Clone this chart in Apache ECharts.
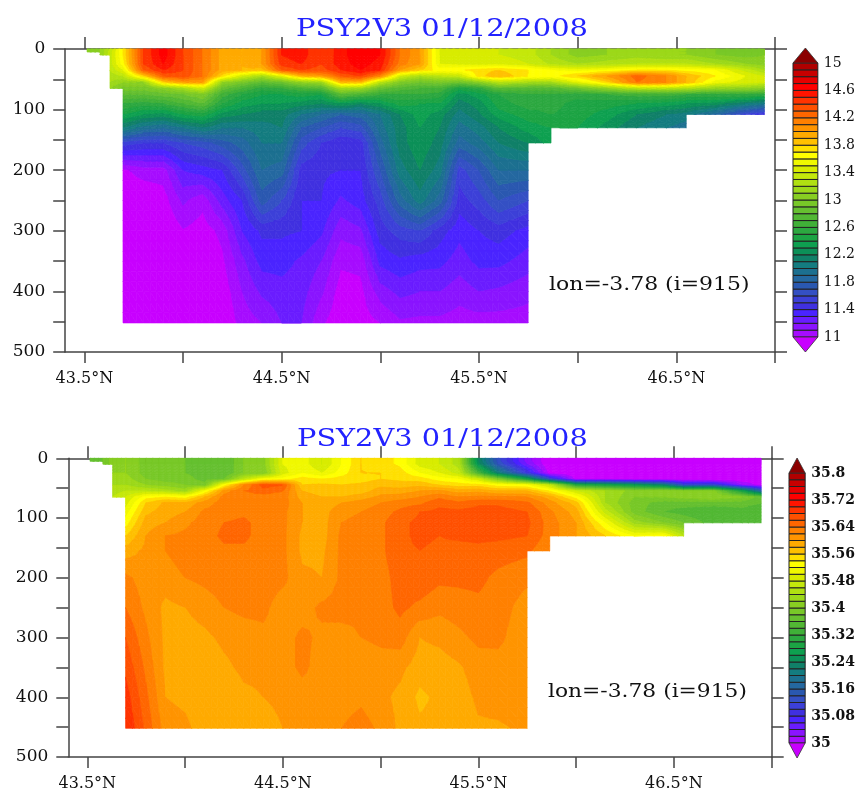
<!DOCTYPE html>
<html><head><meta charset="utf-8">
<style>html,body{margin:0;padding:0;background:#fff}#c{width:858px;height:792px}</style>
<script src="https://cdn.jsdelivr.net/npm/echarts@6/dist/echarts.min.js"></script>
</head><body><div id="c"></div>
<script>
const titleText = 'PSY2V3 01/12/2008';
const noteText = 'lon=-3.78 (i=915)';
const latTicks = [43.5,44,44.5,45,45.5,46,46.5,47];
const latLabels = [43.5,44.5,45.5,46.5];
const lats = [43.514,43.58,43.63,43.696,43.8,43.9,44,44.1,44.2,44.3,44.4,44.5,44.6,44.7,44.8,44.9,45,45.1,45.2,45.3,45.4,45.5,45.6,45.749,45.865,46,46.15,46.3,46.45,46.55,46.7,46.85,46.946];
const depths = [0,5,10,25,35,45,55,65,75,90,108,130,155,200,250,300,350,400,452];
// depth of the sea floor for each interval between two neighbouring lats
const seaFloor = [5,10,65,452,452,452,452,452,452,452,452,452,452,452,452,452,452,452,452,452,452,452,452,155,130,130,130,130,130,108,108,108];
const tempTicks = [11,11.4,11.8,12.2,12.6,13,13.4,13.8,14.2,14.6,15];
const salTicks = [35,35.08,35.16,35.24,35.32,35.4,35.48,35.56,35.64,35.72,35.8];
// one row per latitude, one entry per depth
const temperature = [
[13.0,13.0],
[13.1,13.1,13.1],
[13.3,13.35,13.35,13.35,13.3,13.25,13.2,13.1],
[13.7,13.7,13.7,13.65,13.5,13.3,13.1,12.95,12.8,12.6,12.4,12.1,11.55,10.98,10.9,10.9,10.8,10.8,10.8],
[14.4,14.4,14.4,14.4,14.3,13.8,13.1,12.95,12.8,12.55,12.3,11.95,11.5,11.05,10.9,10.8,10.8,10.8,10.8],
[14.65,14.65,14.65,14.6,14.5,14.3,13.8,13.05,12.85,12.6,12.25,11.9,11.5,11.05,10.95,10.9,10.8,10.8,10.8],
[14.4,14.4,14.4,14.4,14.4,14.35,14.0,13.2,12.9,12.7,12.4,12.0,11.6,11.3,11.12,10.99,10.9,10.85,10.8],
[14.2,14.2,14.2,14.2,14.2,14.2,14.0,13.4,13.0,12.8,12.45,12.1,11.65,11.35,11.03,10.95,10.9,10.85,10.8],
[13.95,13.95,13.95,13.95,13.95,13.75,13.1,12.85,12.65,12.5,12.25,12.0,11.75,11.4,11.25,11.03,10.98,10.93,10.9],
[13.9,13.9,13.9,13.9,13.9,13.4,12.95,12.7,12.5,12.35,12.2,12.0,11.85,11.65,11.4,11.3,11.17,11.1,11.04],
[14.0,14.0,14.0,14.0,13.85,13.2,12.8,12.55,12.4,12.3,12.15,12.05,12.0,11.9,11.75,11.42,11.34,11.22,11.1],
[14.5,14.5,14.5,14.45,14.3,13.5,12.9,12.6,12.4,12.3,12.15,12.1,12.0,11.85,11.6,11.42,11.34,11.26,11.2],
[14.55,14.55,14.55,14.5,14.4,13.9,13.1,12.7,12.45,12.25,12.0,11.8,11.65,11.45,11.4,11.4,11.28,11.24,11.2],
[14.4,14.4,14.4,14.4,14.35,14.0,13.15,12.75,12.4,12.2,11.9,11.7,11.5,11.42,11.4,11.32,11.2,11.12,11.02],
[14.55,14.55,14.55,14.55,14.5,14.3,13.9,13.2,12.8,12.3,11.8,11.6,11.42,11.4,11.28,11.13,11.02,10.95,10.92],
[14.7,14.7,14.7,14.65,14.6,14.4,13.9,13.15,12.7,12.2,11.85,11.65,11.45,11.4,11.35,11.18,11.03,10.97,10.95],
[14.6,14.6,14.6,14.55,14.5,14.1,13.3,12.85,12.6,12.3,12.0,11.95,11.85,11.7,11.55,11.45,11.33,11.15,11.0],
[14.2,14.2,14.2,14.15,14.0,13.4,13.0,12.75,12.6,12.45,12.2,12.15,12.15,12.05,11.85,11.55,11.38,11.23,11.08],
[14.0,14.0,14.0,14.0,13.8,13.2,12.9,12.7,12.6,12.4,12.35,12.3,12.28,12.2,12.05,11.6,11.34,11.2,11.07],
[13.5,13.5,13.5,13.5,13.65,13.3,12.95,12.7,12.55,12.4,12.25,12.2,12.15,12.05,11.85,11.45,11.33,11.2,11.07],
[13.45,13.45,13.45,13.47,13.68,13.35,12.9,12.45,12.25,12.15,12.05,11.95,11.85,11.55,11.45,11.33,11.25,11.14,11.05],
[13.4,13.4,13.4,13.45,13.75,13.75,13.05,12.55,12.35,12.25,12.18,12.05,11.95,11.7,11.55,11.4,11.33,11.2,11.05],
[13.4,13.4,13.4,13.47,13.8,13.9,13.3,12.8,12.5,12.45,12.35,12.2,12.1,11.9,11.7,11.45,11.33,11.18,11.05],
[13.35,13.35,13.35,13.4,13.7,13.7,13.2,12.75,12.6,12.55,12.45,12.35,12.2,11.9,11.6,11.36,11.25,11.13,11.05],
[13.2,13.2,13.2,13.28,13.6,13.65,13.2,12.75,12.6,12.55,12.5,12.4,12.35],
[13.05,13.05,13.05,13.2,13.55,13.8,13.5,12.9,12.55,12.45,12.45,12.4],
[13.1,13.1,13.1,13.25,13.6,14.0,13.8,13.1,12.6,12.45,12.35,12.25],
[13.15,13.15,13.15,13.3,13.7,14.25,14.2,13.3,12.65,12.4,12.2,12.1],
[13.1,13.1,13.1,13.3,13.7,14.1,14.1,13.3,12.65,12.35,12.1,12.0],
[13.1,13.1,13.1,13.3,13.65,13.9,13.9,13.25,12.6,12.3,12.05,11.95],
[13.0,13.0,13.0,13.2,13.6,13.7,13.55,13.1,12.6,12.25,11.85],
[12.95,12.95,12.95,13.1,13.35,13.5,13.45,13.1,12.6,12.1,11.55],
[13.0,13.0,13.0,13.05,13.2,13.4,13.4,13.05,12.55,12.0,11.45]
];
const salinity = [
[35.37,35.37],
[35.38,35.38,35.38],
[35.41,35.41,35.41,35.42,35.43,35.44,35.45,35.46],
[35.42,35.42,35.42,35.42,35.43,35.44,35.46,35.48,35.49,35.51,35.53,35.56,35.59,35.625,35.64,35.66,35.675,35.69,35.70],
[35.39,35.39,35.39,35.39,35.40,35.42,35.46,35.53,35.56,35.575,35.59,35.60,35.605,35.61,35.615,35.625,35.635,35.645,35.655],
[35.39,35.39,35.39,35.39,35.39,35.41,35.45,35.54,35.585,35.59,35.60,35.62,35.62,35.61,35.595,35.595,35.595,35.60,35.61],
[35.38,35.38,35.38,35.38,35.39,35.40,35.43,35.53,35.585,35.60,35.615,35.625,35.63,35.62,35.60,35.59,35.59,35.595,35.605],
[35.37,35.37,35.37,35.37,35.37,35.39,35.52,35.58,35.61,35.625,35.63,35.63,35.63,35.625,35.61,35.595,35.585,35.585,35.59],
[35.36,35.36,35.36,35.36,35.38,35.53,35.61,35.63,35.63,35.63,35.64,35.645,35.635,35.63,35.62,35.605,35.595,35.58,35.58],
[35.40,35.40,35.40,35.40,35.46,35.62,35.64,35.63,35.63,35.635,35.645,35.645,35.635,35.63,35.625,35.61,35.605,35.595,35.585],
[35.41,35.41,35.41,35.40,35.52,35.67,35.65,35.63,35.63,35.63,35.63,35.63,35.63,35.63,35.625,35.615,35.605,35.60,35.59],
[35.50,35.50,35.50,35.49,35.53,35.66,35.64,35.63,35.63,35.625,35.625,35.625,35.625,35.625,35.61,35.61,35.61,35.605,35.60],
[35.51,35.51,35.51,35.52,35.55,35.56,35.58,35.59,35.60,35.60,35.60,35.595,35.595,35.605,35.61,35.625,35.625,35.61,35.605],
[35.48,35.48,35.48,35.50,35.54,35.565,35.57,35.58,35.585,35.59,35.59,35.59,35.595,35.60,35.625,35.615,35.61,35.61,35.605],
[35.52,35.52,35.52,35.53,35.55,35.56,35.565,35.58,35.60,35.615,35.62,35.625,35.625,35.625,35.63,35.61,35.605,35.61,35.62],
[35.56,35.56,35.56,35.56,35.55,35.565,35.57,35.59,35.61,35.62,35.625,35.63,35.63,35.63,35.625,35.62,35.605,35.615,35.63],
[35.55,35.55,35.55,35.56,35.56,35.575,35.59,35.605,35.62,35.63,35.635,35.635,35.635,35.63,35.63,35.625,35.61,35.605,35.615],
[35.535,35.535,35.535,35.55,35.555,35.57,35.59,35.61,35.63,35.645,35.655,35.655,35.655,35.65,35.645,35.63,35.605,35.595,35.595],
[35.49,35.49,35.49,35.52,35.55,35.575,35.60,35.62,35.635,35.66,35.665,35.665,35.66,35.655,35.635,35.60,35.59,35.575,35.585],
[35.48,35.48,35.48,35.50,35.53,35.56,35.605,35.635,35.655,35.665,35.665,35.66,35.655,35.645,35.625,35.605,35.59,35.585,35.585],
[35.45,35.45,35.45,35.47,35.52,35.55,35.59,35.62,35.645,35.665,35.675,35.665,35.65,35.645,35.63,35.615,35.597,35.59,35.585],
[35.24,35.24,35.25,35.34,35.48,35.55,35.595,35.625,35.655,35.67,35.675,35.665,35.655,35.645,35.635,35.625,35.61,35.604,35.597],
[35.13,35.13,35.14,35.22,35.40,35.53,35.58,35.625,35.655,35.67,35.675,35.665,35.65,35.635,35.63,35.625,35.612,35.608,35.597],
[35.03,35.03,35.04,35.10,35.28,35.52,35.58,35.62,35.645,35.66,35.665,35.66,35.645,35.625,35.61,35.605,35.606,35.606,35.604],
[34.98,34.98,34.98,34.99,35.12,35.47,35.54,35.59,35.61,35.625,35.63,35.63,35.62],
[34.98,34.98,34.98,34.98,34.99,35.30,35.48,35.53,35.57,35.59,35.60,35.60],
[34.97,34.97,34.97,34.98,34.99,35.28,35.44,35.44,35.44,35.47,35.52,35.56],
[34.97,34.97,34.97,34.97,34.98,35.26,35.41,35.40,35.39,35.39,35.43,35.52],
[34.97,34.97,34.97,34.97,34.98,35.22,35.42,35.40,35.37,35.36,35.40,35.53],
[34.97,34.97,34.97,34.97,34.98,35.12,35.41,35.41,35.37,35.35,35.38,35.46],
[34.97,34.97,34.97,34.97,34.97,35.12,35.41,35.42,35.37,35.34,35.35],
[34.97,34.97,34.97,34.97,34.98,35.02,35.28,35.40,35.37,35.35,35.34],
[34.97,34.97,34.97,34.97,34.98,34.99,35.16,35.37,35.36,35.34,35.34]
];
// colour bands from the lowest upwards; the two extra colours are the out-of-range triangles
const belowColor = '#c800ff';
const aboveColor = '#8b0000';
const bandColors = ['#a60cff','#8a14ff','#6a1cff','#4a24ff','#4030e0','#3c40d8','#3450c4','#2a58b0','#2468a0','#1c7090','#147c80','#108068','#0c9058','#0ea050','#1ca444','#2ca840','#40b038','#52b834','#66c030','#78c828','#88ce22','#9cd81a','#b0e012','#c4e80c','#d8ec00','#f0f800','#ffff00','#ffe000','#ffc000','#ffaa00','#ff9400','#ff8000','#ff6600','#ff5000','#ff3300','#ff1400','#ff0000','#e60000','#c80000','#b00000'];
const SUB = 3; // contour refinement inside a data cell

function clipBand(poly, level, keepAbove){
  const out=[];
  for(let i=0;i<poly.length;i++){
    const a=poly[i], b=poly[(i+1)%poly.length];
    const ina=keepAbove? a[2]>=level : a[2]<=level;
    const inb=keepAbove? b[2]>=level : b[2]<=level;
    if(ina) out.push(a);
    if(ina!==inb){
      const t=(level-a[2])/(b[2]-a[2]);
      out.push([a[0]+t*(b[0]-a[0]),a[1]+t*(b[1]-a[1]),level]);
    }
  }
  return out;
}
function fieldSeries(field, lo, hi, xIdx, yIdx){
  const n=bandColors.length, step=(hi-lo)/n;
  const bandOf=v=>Math.max(-1,Math.min(n,Math.floor((v-lo)/step)));
  const cells=[];
  for(let i=0;i<lats.length-1;i++){
    for(let j=0;j<depths.length-1;j++){
      if(depths[j+1]<=seaFloor[i]) cells.push([lats[i],depths[j],i,j]);
    }
  }
  return {
    type:'custom', xAxisIndex:xIdx, yAxisIndex:yIdx, clip:false, silent:true, animation:false,
    encode:{x:0,y:1}, data:cells,
    renderItem(params,api){
      const i=api.value(2), j=api.value(3);
      const p0=api.coord([lats[i],depths[j]]), p1=api.coord([lats[i+1],depths[j+1]]);
      const f00=field[i][j], f10=field[i+1][j], f01=field[i][j+1], f11=field[i+1][j+1];
      const pt=(u,v)=>[p0[0]+u*(p1[0]-p0[0]),p0[1]+v*(p1[1]-p0[1]),
        (1-u)*(1-v)*f00+u*(1-v)*f10+(1-u)*v*f01+u*v*f11];
      const children=[];
      for(let a=0;a<SUB;a++) for(let b=0;b<SUB;b++){
        const A=pt(a/SUB,b/SUB),B=pt((a+1)/SUB,b/SUB),C=pt((a+1)/SUB,(b+1)/SUB),D=pt(a/SUB,(b+1)/SUB);
        [[A,B,C],[A,C,D]].forEach(tri=>{
          const k0=bandOf(Math.min(tri[0][2],tri[1][2],tri[2][2])), k1=bandOf(Math.max(tri[0][2],tri[1][2],tri[2][2]));
          for(let k=k0;k<=k1;k++){
            const l0=lo+k*step, l1=l0+step;
            let poly=tri;
            if(k>=0) poly=clipBand(poly,l0,true);
            if(poly.length&&k<n) poly=clipBand(poly,l1,false);
            if(poly.length<3) continue;
            const col=k<0?belowColor:(k>=n?aboveColor:bandColors[k]);
            children.push({type:'polygon',shape:{points:poly.map(p=>[p[0],p[1]])},
              style:{fill:col,stroke:col,lineWidth:0.7}});
          }
        });
      }
      return {type:'group',children};
    }
  };
}
function barSeries(lo,hi,xIdx,yIdx){
  const step=(hi-lo)/bandColors.length;
  const data=bandColors.map((c,k)=>[0.5,lo+k*step,k]);
  data.push([0.5,lo,-1]); data.push([0.5,hi,-2]);
  return {
    type:'custom', xAxisIndex:xIdx,yAxisIndex:yIdx,clip:false,silent:true,animation:false,
    encode:{x:0,y:1},data,
    renderItem(params,api){
      const k=api.value(2);
      if(k>=0){
        const a=api.coord([0,lo+k*step]), b=api.coord([1,lo+(k+1)*step]);
        return {type:'rect',shape:{x:a[0],y:b[1],width:b[0]-a[0],height:a[1]-b[1]},
          style:{fill:bandColors[k],stroke:'#222',lineWidth:1}};
      }
      const up=k===-2, v=up?hi:lo;
      const a=api.coord([0,v]), b=api.coord([1,v]), m=api.coord([0.5,v]);
      const tip=up?-15:15;
      return {type:'polygon',shape:{points:[a,b,[m[0],m[1]+tip]]},
        style:{fill:up?aboveColor:belowColor,stroke:'#333',lineWidth:0.8}};
    }
  };
}
const axisCol='#444';
const labelFont='DejaVu Serif';
function mainAxes(g,xmin){
  const line={lineStyle:{color:axisCol,width:1.5}};
  const bottom={type:'value',gridIndex:g,position:'bottom',min:xmin,max:47,splitLine:{show:false},
    axisLine:{onZero:false,...line},axisTick:{customValues:latTicks,length:11,inside:false,...line},
    axisLabel:{customValues:latLabels,margin:19,color:'#111',fontFamily:labelFont,fontSize:16,formatter:v=>v.toFixed(1)+'°N'}};
  const top={type:'value',gridIndex:g,position:'top',min:xmin,max:47,splitLine:{show:false},
    axisLine:{onZero:false,...line},axisTick:{customValues:latTicks,length:12,...line},axisLabel:{show:false}};
  const left={type:'value',gridIndex:g,position:'left',inverse:true,min:0,max:500,interval:50,splitLine:{show:false},
    axisLine:{onZero:false,...line},axisTick:{length:12,...line},
    axisLabel:{margin:20,color:'#111',fontFamily:labelFont,fontSize:17,showMinLabel:true,showMaxLabel:true,formatter:v=>v%100===0?String(v):''}};
  const right={type:'value',gridIndex:g,position:'right',inverse:true,min:0,max:500,interval:50,splitLine:{show:false},
    axisLine:{onZero:false,...line},axisTick:{length:12,...line},axisLabel:{show:false}};
  return {x:[bottom,top],y:[left,right]};
}
function barAxes(g,lo,hi,ticks,weight){
  return {
    x:{type:'value',gridIndex:g,min:0,max:1,show:false},
    y:{type:'value',gridIndex:g,position:'right',min:lo,max:hi,splitLine:{show:false},
      axisLine:{show:false},axisTick:{show:false},
      axisLabel:{customValues:ticks,margin:6,color:'#111',fontFamily:labelFont,fontSize:14,fontWeight:weight,
        showMinLabel:true,showMaxLabel:true,formatter:v=>String(+v.toFixed(2))}}
  };
}
const m1=mainAxes(0,43.403), m2=mainAxes(1,43.403);
const b1=barAxes(2,11,15,tempTicks,'normal'), b2=barAxes(3,35,35.8,salTicks,'bold');
function wideText(text,x,y,size,scale,fill){
  return {type:'text',x,y,scaleX:scale,silent:true,
    style:{text,fill,font:size+'px "DejaVu Serif"',textAlign:'left',textVerticalAlign:'middle'}};
}
const chart=echarts.init(document.getElementById('c'),null,{renderer:'canvas'});
chart.setOption({
  animation:false,backgroundColor:'#fff',
  grid:[
    {left:65.2,top:49,width:709.8,height:303},
    {left:68.3,top:458.3,width:703.4,height:299.4},
    {left:793,top:63,width:25,height:274},
    {left:789,top:473,width:25,height:270}
  ],
  xAxis:[...m1.x,...m2.x,b1.x,b2.x],
  yAxis:[...m1.y,...m2.y,b1.y,b2.y],
  series:[
    fieldSeries(temperature,11,15,0,0),
    fieldSeries(salinity,35,35.8,2,2),
    barSeries(11,15,4,4),
    barSeries(35,35.8,5,5)
  ],
  graphic:[
    wideText(titleText,296,30,24,1.205,'#2222ff'),
    wideText(titleText,297,440,24,1.2,'#2222ff'),
    wideText(noteText,549,285,18,1.22,'#111'),
    wideText(noteText,548,692,18,1.21,'#111')
  ]
});
</script></body></html>
